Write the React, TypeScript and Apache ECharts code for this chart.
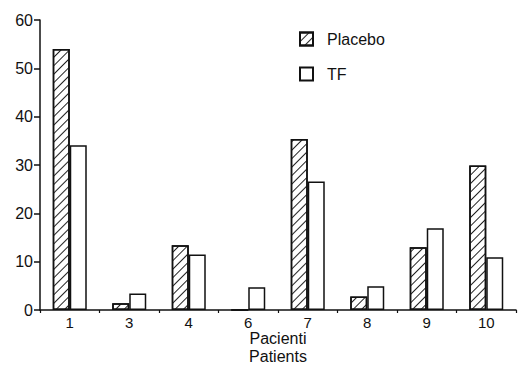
import React, { useEffect, useRef } from "react";
import * as echarts from "echarts";

const categories = ["1", "3", "4", "6", "7", "8", "9", "10"];
const placebo = [54, 1.4, 13.4, 0, 35.4, 2.8, 13, 29.9];
const tf = [34.1, 3.4, 11.5, 4.7, 26.6, 4.9, 16.9, 10.9];
const yTicks = [0, 10, 20, 30, 40, 50, 60];
const xName = "Pacienti\nPatients";

const FONT = "Liberation Sans";

export default function App() {
  const ref = useRef<HTMLDivElement>(null);
  useEffect(() => {
    if (!ref.current) return;
    const chart = echarts.init(ref.current, null, { renderer: "svg" });
    const hatch = {
      symbol: "rect",
      symbolSize: 1,
      color: "#222",
      backgroundColor: "#fff",
      dashArrayX: [1, 0],
      dashArrayY: [1, 4.5],
      rotation: -Math.PI / 4,
    };
    chart.setOption({
      animation: false,
      backgroundColor: "#fff",
      textStyle: { fontFamily: FONT, color: "#111" },
      legend: {
        orient: "vertical",
        left: 294,
        top: 26,
        padding: 5,
        itemWidth: 13,
        itemHeight: 13,
        itemGap: 19,
        icon: "rect",
        textStyle: { fontFamily: FONT, fontSize: 16, color: "#111", padding: [0, 0, 0, 9] },
        data: ["Placebo", "TF"],
      },
      grid: { left: 40, right: 8, top: 20, bottom: 55, outerBoundsMode: "none", containLabel: false },
      xAxis: {
        type: "category",
        data: categories,
        boundaryGap: true,
        name: xName,
        nameLocation: "middle",
        nameGap: 37,
        nameMoveOverlap: false,
        nameTextStyle: { fontFamily: FONT, fontSize: 16, color: "#111", lineHeight: 18, verticalAlign: "middle" },
        axisLine: { lineStyle: { color: "#111", width: 1.5 } },
        axisTick: { show: true, length: 3, lineStyle: { color: "#111", width: 1.2 } },
        axisLabel: { fontFamily: FONT, fontSize: 15, color: "#111", margin: 5 },
      },
      yAxis: {
        type: "value",
        min: 0,
        max: 60,
        interval: 10,
        axisLine: { show: true, lineStyle: { color: "#111", width: 1.5 } },
        axisTick: { show: true, length: 6, lineStyle: { color: "#111", width: 1.5 } },
        axisLabel: {
          fontFamily: FONT,
          fontSize: 16,
          color: "#111",
          margin: 7,
          formatter: (v: number) => (yTicks.includes(v) ? String(v) : ""),
        },
        splitLine: { show: false },
      },
      series: [
        {
          name: "Placebo",
          type: "bar",
          data: placebo,
          barWidth: 17,
          barGap: "0%",
          itemStyle: { color: "#fff", borderColor: "#111", borderWidth: 1.5, decal: hatch },
        },
        {
          name: "TF",
          type: "bar",
          data: tf,
          barWidth: 17,
          barGap: "0%",
          itemStyle: { color: "#fff", borderColor: "#111", borderWidth: 1.5 },
        },
      ],
    });
    return () => chart.dispose();
  }, []);
  return <div ref={ref} style={{ width: 524, height: 365, position: "absolute", left: 0, top: 0 }} />;
}
